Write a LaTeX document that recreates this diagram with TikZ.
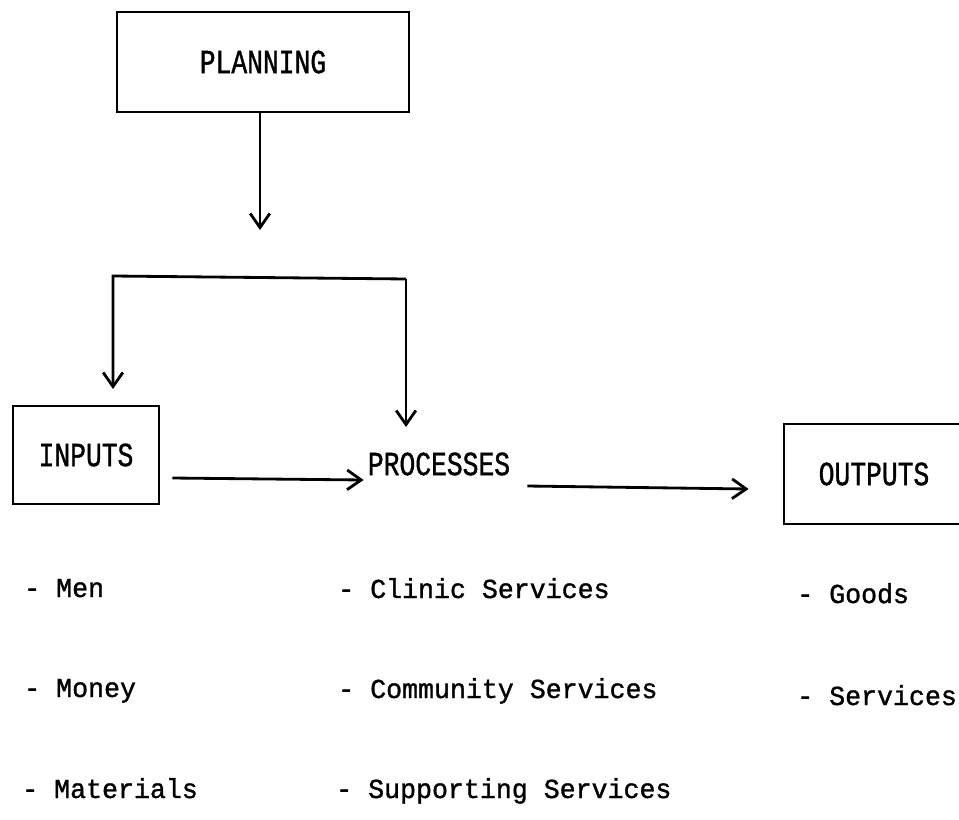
\documentclass[tikz,border=0pt]{standalone}
\usepackage{fontspec}
\setmonofont{Liberation Mono}[FakeBold=1.2, FakeStretch=0.97]
\newfontfamily\stagefont{Liberation Mono}[FakeStretch=0.78, FakeBold=1]
\usetikzlibrary{arrows.meta, positioning}

\begin{document}
\begin{tikzpicture}[
    x=0.025cm, y=-0.025cm,
    stagetext/.style={inner sep=0pt, font=\stagefont\fontsize{24}{28}\selectfont},
    stage/.style={stagetext, draw, rectangle, line width=2pt},
    listitem/.style={anchor=base west, inner sep=0pt, font=\ttfamily\fontsize{19.5}{22}\selectfont},
    flow/.style={->, line width=2pt},
    >={Straight Barb[length=10pt, width=14pt]}
]
\useasboundingbox (0,0) rectangle (959,820);
\clip (0,0) rectangle (959,820);

% Planning on top
\node[stage, minimum width=7.3cm, minimum height=2.5cm] (planning) at (263,62) {PLANNING};
\coordinate (plan_end) at (260,230);
\draw[flow] (planning.south -| plan_end) -- (plan_end);

% Split towards inputs and processes
\coordinate (split_l) at (113,276);
\coordinate (split_r) at (406,279);
\draw[flow] (split_r) -- (split_l) -- ++(0,113);
\draw[flow] (split_r) -- ++(0,148);

% Inputs -> Processes -> Outputs
\node[stage, minimum width=3.65cm, minimum height=2.45cm] (inputs) at (86,455) {INPUTS};
\node[stagetext] (processes) at (439,464) {PROCESSES};
\node[stage, minimum width=4.5cm, minimum height=2.5cm] (outputs) at (874,474) {OUTPUTS};

\draw[flow] ([xshift=0.3cm, yshift=-0.575cm]inputs.east) -- ([xshift=-0.1cm, yshift=-0.4cm]processes.west);
\draw[flow] ([xshift=0.425cm, yshift=-0.55cm]processes.east) -- ([xshift=-0.85cm, yshift=-0.375cm]outputs.west);

% Lists under each stage
\node[listitem] (men) at (24,597) {- Men};
\node[listitem] (money) at (24,697) {- Money};
\node[listitem] (materials) at (22,798) {- Materials};

\node[listitem] (clinic) at (338,598) {- Clinic Services};
\node[listitem] (community) at (338,698) {- Community Services};
\node[listitem] (supporting) at (336,798) {- Supporting Services};

\node[listitem] (goods) at (797,603) {- Goods};
\node[listitem] (services) at (797,705) {- Services};

\end{tikzpicture}
\end{document}
